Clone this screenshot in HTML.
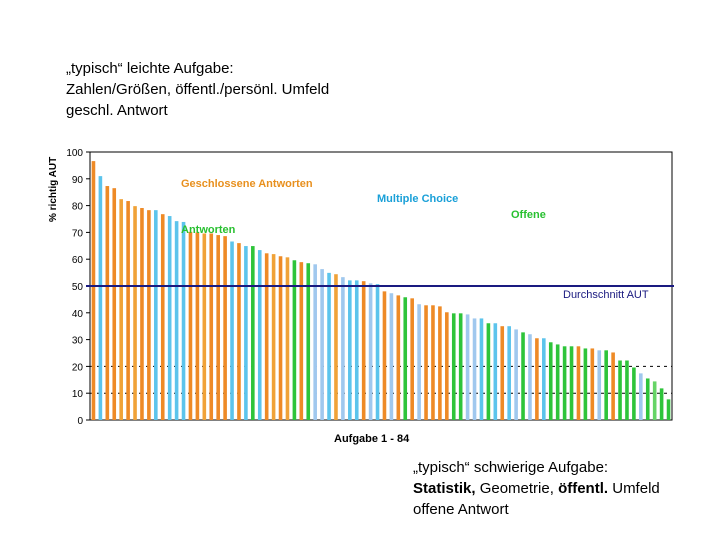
<!DOCTYPE html>
<html><head><meta charset="utf-8"><style>
body{margin:0;background:#fff;width:720px;height:540px;overflow:hidden;font-family:"Liberation Sans",sans-serif}
.t{position:absolute;font-size:15px;color:#000;line-height:21px}
</style></head><body>
<div class="t" style="left:66px;top:58px">„typisch“ leichte Aufgabe:<br>Zahlen/Größen, öffentl./persönl. Umfeld<br>geschl. Antwort</div>
<div class="t" style="left:413px;top:457px">„typisch“ schwierige Aufgabe:<br><b>Statistik,</b> Geometrie, <b>öffentl.</b> Umfeld<br>offene Antwort</div>
<svg id="c" width="720" height="540" style="position:absolute;left:0;top:0" font-family="Liberation Sans, sans-serif"></svg>
<script>
const values=[96.6,91,87.3,86.5,82.4,81.7,79.8,79.1,78.3,78.3,76.8,76.1,74.2,73.9,70.2,70,69.6,69.6,69,68.6,66.6,66,64.9,64.9,63.4,62.2,61.9,61.1,
60.7,59.6,58.9,58.5,58.1,56.3,54.9,54.4,53.3,52.1,52.1,51.8,51,50.7,48,47.3,46.5,45.8,45.4,43.2,42.8,42.8,42.4,40.2,39.8,39.8,39.4,37.9,
37.9,36.1,36.1,35,35,33.8,32.7,32,30.5,30.5,29,28.2,27.5,27.5,27.5,26.7,26.7,26,26,25.2,22.2,22.2,19.6,17.4,15.5,14.4,11.8,7.7];
const types="OBOOoOoOOBOBBBOOoOOOBOBGBOoO"+"oGOGbbBobBBObBObOGObOOOOGGbb"+"BGBOBbGbOBGGGGOGObGOGGGbGgGG";
const yTicks=[0,10,20,30,40,50,60,70,80,90,100];
const average=50;
const refLines=[10,20];
const colors={O:"#ee8a26",o:"#f0a238",B:"#5cc4ec",b:"#a0c8ee",G:"#2ec43a",g:"#66d466"};
const L=90,R=672,T=152,B=420;
const y=v=>B-(v/100)*(B-T);
const n=values.length,step=(R-L)/n;
const x=i=>L+step*(i+0.5);
const svg=document.getElementById('c');
function mk(tag,a,txt){const e=document.createElementNS('http://www.w3.org/2000/svg',tag);for(const k in a)e.setAttribute(k,a[k]);if(txt!==undefined)e.textContent=txt;svg.appendChild(e);return e;}
let e=mk('rect',{x:L,y:T,width:R-L,height:B-T,fill:'#fff',stroke:'#000','stroke-width':1});


yTicks.forEach(t=>{
 let tk=mk('line',{x1:L-4,x2:L,y1:y(t),y2:y(t),stroke:'#000'});
 
 
 let lb=mk('text',{x:83,y:y(t)+4,'font-size':10,'text-anchor':'end'},t);
 
 
});
refLines.forEach(r=>{
 let l=mk('line',{x1:L,x2:R,y1:y(r),y2:y(r),stroke:'#000','stroke-width':1,'stroke-dasharray':'3,4'});
 
 
});
values.forEach((v,i)=>{
 let b=mk('rect',{x:x(i)-1.8,y:y(v),width:3.6,height:B-y(v),fill:colors[types[i]]});
 
 
});
e=mk('line',{x1:L-4,x2:R+2,y1:y(average),y2:y(average),stroke:'#1a1a80','stroke-width':2});


const labels=[["Geschlossene Antworten",181,187,"#e8901e","bold","geschlossen-label"],["Antworten",181,233,"#28c030","bold","antworten-label"],["Multiple Choice",377,202,"#1aa0d8","bold","multiple-choice-label"],["Offene",511,218,"#28c030","bold","offene-label"],["Durchschnitt AUT",563,298,"#1a1a80","normal","average-label"],["Aufgabe 1 - 84",334,442,"#000","bold","x-axis-title"]];
labels.forEach(a=>{
 let t=mk('text',{x:a[1],y:a[2],'font-size':11,fill:a[3],'font-weight':a[4]},a[0]);
 
 
});
e=mk('text',{x:0,y:0,'font-size':10,'font-weight':'bold',transform:'translate(56,222) rotate(-90)'},'% richtig AUT');


</script>
</body></html>
